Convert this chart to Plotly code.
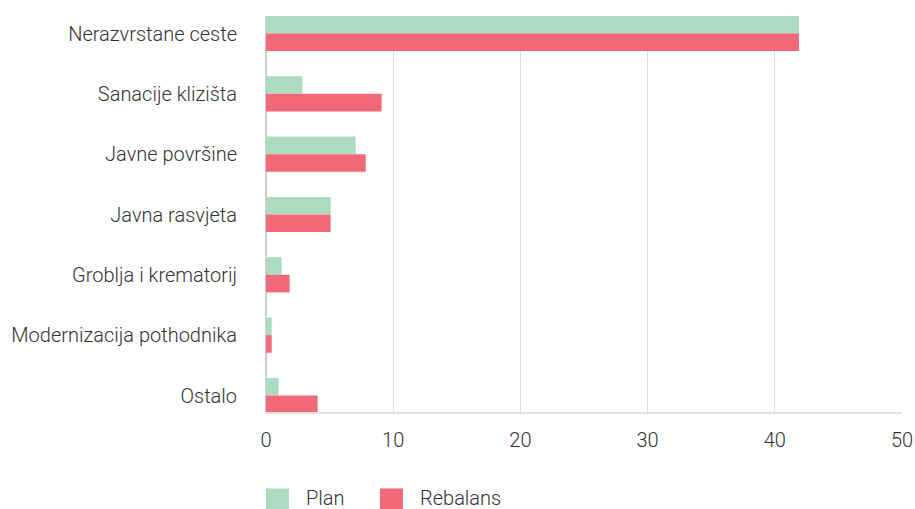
import plotly.graph_objects as go

categories = ['Nerazvrstane ceste', 'Sanacije klizišta', 'Javne površine', 'Javna rasvjeta',
              'Groblja i krematorij', 'Modernizacija pothodnika', 'Ostalo']
plan = [41.9, 2.86, 7.05, 5.08, 1.23, 0.45, 1.0]
rebalans = [41.9, 9.09, 7.84, 5.08, 1.86, 0.45, 4.06]
x_ticks = [0, 10, 20, 30, 40, 50]

GREEN = '#ADDBC0'
RED = '#F16879'
TEXT = '#333333'
FONT = 'Roboto'

fig = go.Figure()

fig.add_trace(go.Bar(y=categories, x=plan, orientation='h', name='Plan',
                     marker=dict(color=GREEN, line=dict(width=0)), showlegend=False))
fig.add_trace(go.Bar(y=categories, x=rebalans, orientation='h', name='Rebalans',
                     marker=dict(color=RED, line=dict(width=0)), showlegend=False))

# bottom axis line
fig.add_shape(type='line', xref='paper', yref='paper', x0=0, x1=1, y0=0, y1=0,
              line=dict(color='#E0E0E0', width=2))

# custom legend (bigger squares than plotly's default bar swatches)
legend_items = [('Plan', GREEN, 0.0), ('Rebalans', RED, 0.1793)]
for label, color, x0 in legend_items:
    fig.add_shape(type='rect', xref='paper', yref='paper',
                  x0=x0, x1=x0 + 0.036, y0=-0.242, y1=-0.19,
                  fillcolor=color, line=dict(width=0))
    fig.add_annotation(text=label, xref='paper', yref='paper',
                       x=x0 + 0.06, y=-0.214, xanchor='left', yanchor='middle',
                       showarrow=False, font=dict(family=FONT, size=20, color=TEXT, weight=300))

fig.update_layout(
    width=915, height=509,
    margin=dict(l=266, r=13, t=16, b=96, autoexpand=False),
    barmode='group', bargap=0.417, bargroupgap=0,
    plot_bgcolor='white', paper_bgcolor='white',
    font=dict(family=FONT, size=20, color=TEXT, weight=300),
    xaxis=dict(range=[0, 50], tickvals=x_ticks, showgrid=True, gridcolor='#DDDDDD', gridwidth=1,
               zeroline=True, zerolinecolor='#D0D0D0', showline=False, automargin=False,
               ticklabelstandoff=13, tickfont=dict(size=20)),
    yaxis=dict(categoryorder='array', categoryarray=categories, range=[6.29, -0.29],
               showgrid=False, showline=False, ticks='', ticklabelstandoff=28,
               automargin=False, tickfont=dict(size=20)),
    showlegend=False,
)

fig.write_html("out.html", config={'displayModeBar': False},
               post_script="document.body.style.margin='0';document.body.style.overflow='hidden';")
